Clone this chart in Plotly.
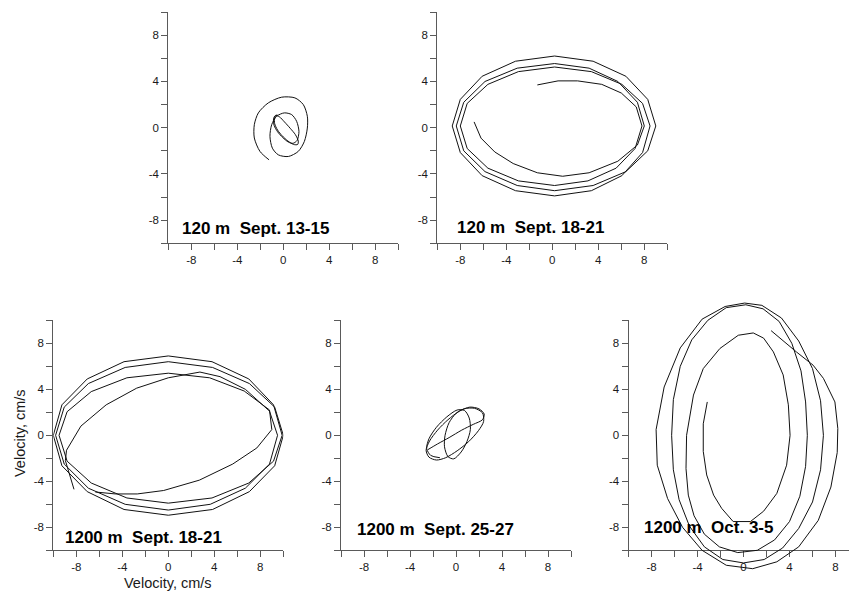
import plotly.graph_objects as go

# ---------------------------------------------------------------------------
# Current-velocity hodographs (u = east, v = north, cm/s)
# ---------------------------------------------------------------------------

# 120 m, Sept. 13-15
p1_u = [-0.55, -0.75, -0.75, -0.5, -0.1, 0.4, 0.9, 1.25, 1.3, 1.05, 0.6, 0.1, -0.35, -0.7,
        -0.85, -0.8, -0.5, -0.05, 0.45, 0.85, 1.2, 1.36, 1.16, 0.73, 0.09, -0.58, -1.01,
        -1.16, -0.95, -0.43, 0.44, 1.3, 1.83, 2.09, 2.09, 1.74, 1.01, -0.14, -1.3, -2.17,
        -2.52, -2.52, -2.03, -1.24]
p1_v = [1.15, 0.85, 0.35, -0.2, -0.7, -1.15, -1.45, -1.45, -1.15, -0.6, -0.05, 0.5, 0.95, 1.05,
        0.75, 0.2, -0.35, -0.85, -1.25, -1.35, -1.1, -0.32, 0.55, 1.13, 1.28, 0.99, 0.26,
        -0.75, -1.77, -2.35, -2.49, -2.05, -1.19, -0.03, 0.99, 2.0, 2.58, 2.64, 2.15, 1.28,
        0.26, -0.89, -2.05, -2.78]

# 120 m, Sept. 18-21
p2_u = [-6.8, -6.2, -5.0, -3.4, -1.3, 0.9, 3.2, 5.7, 7.4, 8.0, 7.4, 5.7, 3.2, 0.2, -3.05, -5.85,
        -7.7, -8.35, -7.7, -5.85, -3.05, 0.2, 3.55, 6.4, 8.3, 9.0, 8.3, 6.4, 3.55, 0.2, -3.2,
        -6.1, -8.0, -8.7, -8.0, -6.1, -3.2, 0.2, 3.4, 6.05, 7.85, 8.5, 7.85, 6.05, 3.4, 0.2,
        -2.95, -5.6, -7.4, -8.0, -7.4, -5.6, -2.95, 0.2, 3.1, 5.55, 7.2, 7.8, 7.3, 6.0, 4.3,
        2.2, 0.5, -1.3]
p2_v = [0.5, -0.9, -2.1, -3.1, -3.9, -4.2, -3.9, -2.9, -1.5, 0.15, 2.2, 4.0, 5.15, 5.55, 5.15,
        4.0, 2.2, 0.15, -2.0, -3.8, -5.0, -5.45, -5.0, -3.8, -2.0, 0.15, 2.45, 4.45, 5.75, 6.2,
        5.75, 4.45, 2.45, 0.15, -2.15, -4.15, -5.45, -5.9, -5.45, -4.15, -2.15, 0.15, 2.1,
        3.75, 4.85, 5.25, 4.85, 3.75, 2.1, 0.15, -1.8, -3.5, -4.6, -5.0, -4.6, -3.5, -1.8,
        0.15, 1.8, 3.0, 3.75, 4.05, 4.05, 3.7]

# 1200 m, Sept. 18-21
p3_u = [-6.35, -4.6, -2.7, -0.4, 2.7, 5.6, 7.7, 9.0, 8.8, 6.6, 3.6, 0.0, -3.6, -6.7, -8.8, -9.5,
        -8.8, -6.7, -3.6, 0.0, 3.8, 7.0, 9.15, 9.9, 9.15, 7.0, 3.8, 0.0, -3.85, -7.05, -9.25,
        -10.0, -9.25, -7.05, -3.85, 0.0, 3.85, 7.05, 9.25, 10.0, 9.25, 7.05, 3.85, 0.0, -3.75,
        -6.95, -9.05, -9.8, -9.05, -6.95, -3.75, 0.0, 3.65, 6.7, 8.8, 9.5, 8.8, 6.7, 4.5, 2.75,
        0.0, -2.75, -5.4, -7.6, -8.85, -8.95, -8.2]
p3_v = [-4.93, -5.1, -5.1, -4.8, -3.9, -2.5, -1.1, 0.5, 2.2, 3.85, 5.0, 5.4, 5.0, 3.8, 2.05, 0.0,
        -2.25, -4.15, -5.45, -5.9, -5.45, -4.15, -2.25, 0.0, 2.65, 4.9, 6.4, 6.9, 6.4, 4.9,
        2.65, 0.0, -2.65, -4.9, -6.45, -6.95, -6.45, -4.9, -2.65, 0.0, 2.45, 4.5, 5.9, 6.4,
        5.9, 4.5, 2.45, 0.0, -2.5, -4.6, -6.0, -6.5, -6.0, -4.6, -2.5, 0.0, 2.1, 4.0, 5.1,
        5.5, 5.0, 4.1, 2.65, 0.8, -1.3, -2.2, -4.7]

# 1200 m, Sept. 25-27
p4_u = [-2.45, -1.6, -0.6, 0.5, 1.5, 2.3, 2.45, 2.0, 1.2, 0.3, -0.7, -1.6, -2.3, -2.6, -2.35,
        -1.7, -0.9, 0.1, 1.1, 1.95, 2.4, 2.3, 1.6, 0.7, 0.0, -0.6, -0.95, -1.0, -0.7, -0.2,
        0.45, 0.95, 1.25, 1.15, 0.75, 0.1, -0.8, -1.7, -2.35, -2.55, -2.2, -1.4]
p4_v = [-1.25, -0.75, -0.2, 0.45, 0.95, 1.35, 1.85, 2.3, 2.45, 2.1, 1.35, 0.45, -0.5, -1.3, -1.9,
        -2.15, -1.95, -1.35, -0.55, 0.4, 1.2, 1.95, 2.35, 2.3, 1.9, 1.1, 0.0, -1.0, -1.85,
        -2.05, -1.45, -0.55, 0.5, 1.5, 2.15, 2.2, 1.6, 0.7, -0.3, -1.15, -1.75, -1.95]

# 1200 m, Oct. 3-5
p5_u = [-3.15, -3.5, -3.5, -3.2, -2.6, -1.9, -0.9, 0.6, 1.75, 2.9, 3.75, 4.05, 3.9, 3.45, 2.6,
        1.75, 0.85, -0.45, -2.05, -3.5, -4.35, -4.95, -5.0, -4.8, -4.3, -3.4, -2.1, -0.5, 1.2,
        2.7, 4.0, 4.9, 5.4, 5.55, 5.4, 5.0, 4.2, 3.1, 1.7, 0.2, -1.5, -3.1, -4.5, -5.5, -6.1,
        -6.25, -6.1, -5.6, -4.7, -3.4, -1.8, 0.0, 1.8, 3.4, 4.8, 6.0, 6.7, 6.95, 6.7, 6.0, 4.8,
        3.3, 1.6, 0.1, -1.6, -3.6, -5.5, -6.9, -7.6, -7.5, -6.6, -5.3, -3.6, -1.5, 0.8, 2.9,
        4.8, 6.5, 7.6, 8.15, 8.2, 7.95, 6.95, 6.05, 4.6, 2.4]
p5_v = [2.9, 1.0, -1.4, -3.45, -5.2, -6.35, -7.5, -7.5, -6.6, -5.05, -2.6, 0.0, 2.65, 5.25, 7.25,
        8.45, 8.9, 8.7, 7.55, 5.8, 3.5, 0.0, -2.9, -5.2, -7.0, -8.6, -9.7, -10.2, -10.0, -9.1,
        -7.5, -5.3, -2.7, 0.0, 2.9, 5.6, 8.0, 9.9, 11.0, 11.35, 11.1, 10.0, 8.3, 6.0, 3.1, 0.0,
        -3.0, -5.6, -7.9, -9.7, -10.8, -11.1, -10.8, -9.8, -8.1, -5.8, -3.0, 0.0, 3.0, 5.8,
        8.2, 10.2, 11.3, 11.5, 11.2, 10.1, 7.6, 4.2, 0.5, -2.6, -5.5, -8.0, -10.0, -11.3,
        -11.6, -11.0, -9.7, -7.4, -4.5, -1.5, 0.6, 2.9, 4.95, 6.1, 7.25, 9.1]

labels = ["120 m\u00a0 Sept. 13-15", "120 m\u00a0 Sept. 18-21", "1200 m\u00a0 Sept. 18-21",
          "1200 m\u00a0 Sept. 25-27", "1200 m\u00a0 Oct. 3-5"]

tick_vals = [-10, -8, -6, -4, -2, 0, 2, 4, 6, 8, 10]
tick_text = ["", "-8", "", "-4", "", "0", "", "4", "", "8", ""]

# ---------------------------------------------------------------------------
# Page geometry (pixels)
# ---------------------------------------------------------------------------
W, H = 849, 593
FONT = "Liberation Sans, Arial, Helvetica, sans-serif"
AXC = "#5a5a5a"

# origin pixel of each panel, pixels per cm/s (x, y), spline smoothing, label anchor
panels = [
    dict(u=p1_u, v=p1_v, ox=283.3, oy=127.7, sx=11.5, sy=11.56, smooth=True, lx=-9.0, ly=-8.7),
    dict(u=p2_u, v=p2_v, ox=552.3, oy=127.7, sx=11.5, sy=11.56, smooth=False, lx=-8.5, ly=-8.6),
    dict(u=p3_u, v=p3_v, ox=168.3, oy=435.3, sx=11.5, sy=11.5, smooth=False, lx=-9.2, ly=-8.85),
    dict(u=p4_u, v=p4_v, ox=456.0, oy=435.3, sx=11.5, sy=11.5, smooth=True, lx=-8.8, ly=-8.15),
    dict(u=p5_u, v=p5_v, ox=743.5, oy=435.3, sx=11.5, sy=11.5, smooth=False, lx=-8.85, ly=-8.05),
]

fig = go.Figure()
layout_axes = {}
annotations = []

for i, p in enumerate(panels, start=1):
    x_left = p["ox"] - 10 * p["sx"]
    x_right = min(p["ox"] + 10 * p["sx"], W)
    x_hi = (x_right - p["ox"]) / p["sx"]
    xdom = [x_left / W, x_right / W]
    ydom = [1 - (p["oy"] + 10 * p["sy"]) / H, 1 - (p["oy"] - 10 * p["sy"]) / H]

    common = dict(
        tickmode="array", tickvals=tick_vals, ticktext=tick_text,
        ticks="outside", ticklen=6, tickwidth=1, tickcolor=AXC,
        showline=True, linecolor=AXC, linewidth=1,
        showgrid=False, zeroline=False, fixedrange=True,
        tickfont=dict(family=FONT, size=11.5, color="#1a1a1a"),
    )
    layout_axes[f"xaxis{i}"] = dict(domain=xdom, range=[-10, x_hi], anchor=f"y{i}", **common)
    layout_axes[f"yaxis{i}"] = dict(domain=ydom, range=[-10, 10], anchor=f"x{i}", **common)

    xa, ya = f"x{i}", f"y{i}"
    if i == 5:
        # the Oct. 3-5 loops run past the ±10 frame: draw them on a taller, hidden pair
        ext = 12.5
        layout_axes["xaxis6"] = dict(domain=xdom, range=[-10, x_hi], anchor="y6",
                                     visible=False, fixedrange=True)
        layout_axes["yaxis6"] = dict(domain=[1 - (p["oy"] + ext * p["sy"]) / H,
                                             1 - (p["oy"] - ext * p["sy"]) / H],
                                     range=[-ext, ext], anchor="x6",
                                     visible=False, fixedrange=True)
        xa, ya = "x6", "y6"

    fig.add_trace(go.Scatter(
        x=p["u"], y=p["v"], mode="lines", xaxis=xa, yaxis=ya,
        line=dict(color="#111111", width=1,
                  shape="spline" if p["smooth"] else "linear", smoothing=0.8),
        hoverinfo="skip", showlegend=False,
    ))

    annotations.append(dict(
        x=p["lx"], y=p["ly"], xref=f"x{i}", yref=f"y{i}",
        text=f"<b>{labels[i - 1]}</b>", showarrow=False,
        xanchor="left", yanchor="middle",
        font=dict(family=FONT, size=17, color="#000000"),
    ))

# axis titles of the lower-left panel
annotations.append(dict(
    x=168 / W, y=1 - 583 / H, xref="paper", yref="paper",
    text="Velocity, cm/s", showarrow=False, xanchor="center", yanchor="middle",
    font=dict(family=FONT, size=14.5, color="#1a1a1a"),
))
annotations.append(dict(
    x=20 / W, y=1 - 433 / H, xref="paper", yref="paper",
    text="Velocity, cm/s", showarrow=False, xanchor="center", yanchor="middle",
    textangle=-90, font=dict(family=FONT, size=14.5, color="#1a1a1a"),
))

fig.update_layout(
    width=W, height=H,
    margin=dict(l=0, r=0, t=0, b=0),
    paper_bgcolor="white", plot_bgcolor="rgba(0,0,0,0)",
    showlegend=False,
    annotations=annotations,
    **layout_axes,
)

fig.write_html("out.html")
